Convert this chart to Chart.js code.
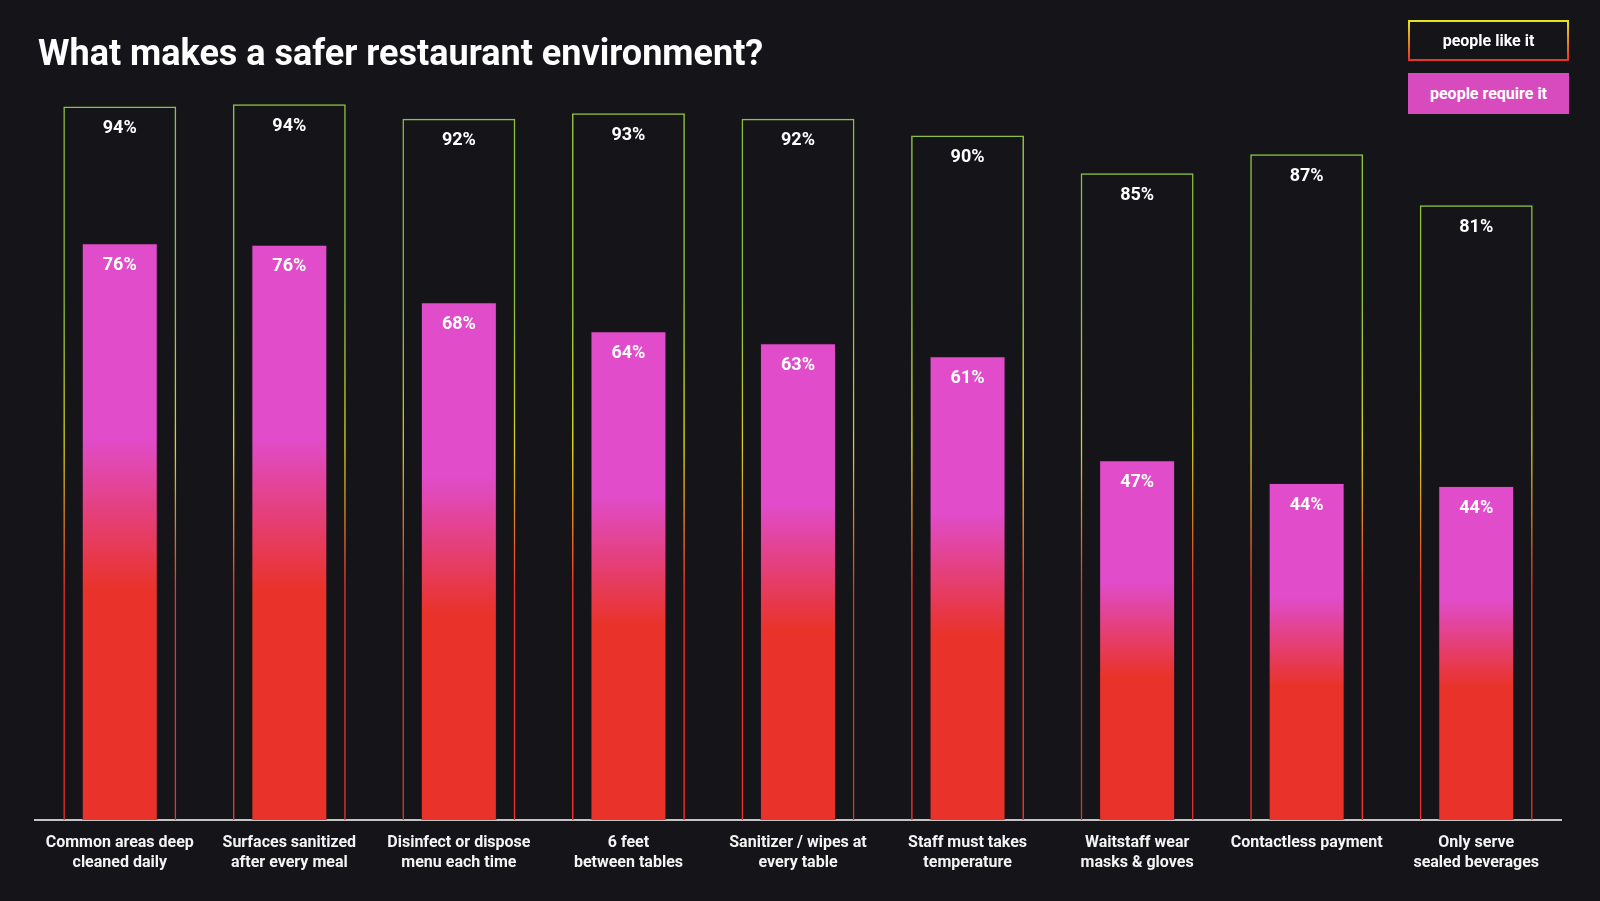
<!DOCTYPE html>
<html>
<head>
<meta charset="utf-8">
<title>What makes a safer restaurant environment?</title>
<script src="https://cdn.jsdelivr.net/npm/chart.js@4.4.1/dist/chart.umd.min.js"></script>
<style>
  html, body { margin: 0; padding: 0; background: #151519; }
  #wrap { position: relative; width: 1600px; height: 901px; overflow: hidden; }
  #chart { position: absolute; left: 0; top: 0; }
  #title {
    position: absolute; left: 38px; top: 32px;
    font: bold 36px Roboto, sans-serif; color: #fff; white-space: nowrap;
  }
  .legend-box {
    position: absolute; left: 1408px; width: 161px; height: 41px;
    box-sizing: border-box; color: #fff; font: bold 16px Roboto, sans-serif;
    display: flex; align-items: center; justify-content: center;
  }
  #leg-like { top: 20px; border: 2px solid; border-image: linear-gradient(#e6e31e, #e8322a) 1; }
  #leg-req { top: 73px; background: #d74bbf; }
</style>
</head>
<body>
<div id="wrap">
  <canvas id="chart" width="1600" height="901"></canvas>
  <div id="title">What makes a safer restaurant environment?</div>
  <div class="legend-box" id="leg-like">people like it</div>
  <div class="legend-box" id="leg-req">people require it</div>
</div>
<script>
// Data
const categories = [
  ["Common areas deep", "cleaned daily"],
  ["Surfaces sanitized", "after every meal"],
  ["Disinfect or dispose", "menu each time"],
  ["6 feet", "between tables"],
  ["Sanitizer / wipes at", "every table"],
  ["Staff must takes", "temperature"],
  ["Waitstaff wear", "masks & gloves"],
  ["Contactless payment"],
  ["Only serve", "sealed beverages"]
];
const likeValues = [94.0, 94.3, 92.4, 93.1, 92.4, 90.2, 85.2, 87.7, 81.0];
const requireValues = [76.0, 75.8, 68.2, 64.4, 62.8, 61.1, 47.4, 44.4, 44.0];
const likeLabels = ["94%", "94%", "92%", "93%", "92%", "90%", "85%", "87%", "81%"];
const requireLabels = ["76%", "76%", "68%", "64%", "63%", "61%", "47%", "44%", "44%"];

const MAGENTA = "#e04cc9";
const RED = "#e9332a";
const GREEN = "#8cc03e";
const YELLOW = "#d8d520";

// per-bar gradient: magenta at the top fading to red further down
function fillGradient(context) {
  const { ctx, chartArea, scales } = context.chart;
  if (!chartArea || context.raw === undefined) return MAGENTA;
  const top = scales.y.getPixelForValue(context.raw);
  const bottom = scales.y.getPixelForValue(0);
  const g = ctx.createLinearGradient(0, top, 0, bottom);
  g.addColorStop(0, MAGENTA);
  g.addColorStop(0.34, MAGENTA);
  g.addColorStop(0.6, RED);
  g.addColorStop(1, RED);
  return g;
}

// outline gradient shared by all bars: green -> yellow -> red
function outlineGradient(context) {
  const { ctx, chartArea, scales } = context.chart;
  if (!chartArea) return GREEN;
  const top = scales.y.getPixelForValue(95);
  const bottom = scales.y.getPixelForValue(0);
  const g = ctx.createLinearGradient(0, top, 0, bottom);
  g.addColorStop(0, GREEN);
  g.addColorStop(0.28, GREEN);
  g.addColorStop(0.48, YELLOW);
  g.addColorStop(0.68, RED);
  g.addColorStop(1, RED);
  return g;
}

// value labels just inside the top of each bar
const valueLabels = {
  id: "valueLabels",
  afterDatasetsDraw(chart) {
    const ctx = chart.ctx;
    ctx.save();
    ctx.font = "bold 18px Roboto, sans-serif";
    ctx.fillStyle = "#ffffff";
    ctx.textAlign = "center";
    ctx.textBaseline = "middle";
    chart.data.datasets.forEach((ds, i) => {
      const meta = chart.getDatasetMeta(i);
      meta.data.forEach((bar, j) => {
        ctx.fillText(ds.labelsText[j], bar.x, bar.y + 22);
      });
    });
    ctx.restore();
  }
};

const ctx = document.getElementById("chart").getContext("2d");

new Chart(ctx, {
  type: "bar",
  data: {
    labels: categories,
    datasets: [
      {
        label: "people require it",
        data: requireValues,
        labelsText: requireLabels,
        backgroundColor: fillGradient,
        borderColor: "rgba(60, 20, 50, 0.45)",
        borderWidth: 1,
        barPercentage: 0.448,
        categoryPercentage: 1,
        grouped: false,
        order: 1
      },
      {
        label: "people like it",
        data: likeValues,
        labelsText: likeLabels,
        backgroundColor: "transparent",
        borderColor: outlineGradient,
        borderWidth: 1.5,
        barPercentage: 0.666,
        categoryPercentage: 1,
        grouped: false,
        order: 2
      }
    ]
  },
  options: {
    responsive: false,
    animation: false,
    events: [],
    layout: { padding: { left: 35, right: 39, top: 61, bottom: 0 } },
    plugins: {
      legend: { display: false },
      tooltip: { enabled: false }
    },
    scales: {
      x: {
        grid: { display: false, drawTicks: false },
        border: { display: true, color: "#c4c4c4", width: 2 },
        ticks: {
          color: "#f4f4f4",
          font: { family: "Roboto", weight: "bold", size: 16, lineHeight: 1.25 },
          padding: 13,
          maxRotation: 0,
          autoSkip: false
        },
        afterFit(scale) { scale.height = 81; }
      },
      y: { display: false, min: 0, max: 100 }
    }
  },
  plugins: [valueLabels]
});
</script>
</body>
</html>
